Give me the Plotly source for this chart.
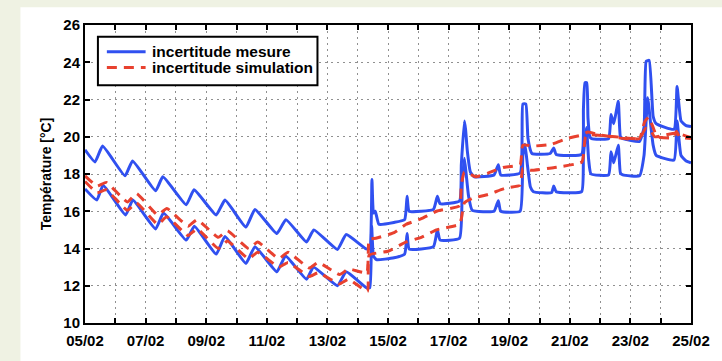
import pandas as pd
import plotly.graph_objects as go

# ---- data (x in days after 05/02 00:00) ----
mes_haut_t = [0.00, 0.33, 0.58, 1.32, 1.57, 2.33, 2.57, 3.34, 3.60, 4.33, 4.62, 5.31, 5.61,
              6.33, 6.63, 7.31, 7.55, 8.33, 8.62, 9.28, 9.40, 9.47, 9.52, 9.58, 9.70, 10.20,
              10.55, 10.63, 10.70, 11.50, 11.63, 11.72, 12.36, 12.42, 12.52, 12.56, 12.62,
              12.72, 12.85, 13.50, 13.64, 13.72, 14.36, 14.45, 14.55, 14.62, 14.75, 15.35,
              15.47, 15.55, 16.39, 16.45, 16.50, 16.56, 16.60, 16.66, 16.72, 17.28, 17.36,
              17.45, 17.60, 17.67, 17.75, 18.30, 18.45, 18.52, 18.62, 18.75, 18.85, 19.44,
              19.54, 19.67, 19.84, 20.00]
mes_haut_v = [19.30, 18.65, 19.50, 17.90, 18.70, 17.10, 17.85, 16.35, 17.15, 15.80, 16.60, 15.15, 16.10,
              14.80, 15.55, 14.35, 15.00, 13.95, 14.75, 13.98, 14.00, 17.70, 15.90, 16.00, 15.30, 15.40,
              15.55, 16.80, 16.00, 16.10, 16.80, 16.40, 16.55, 18.50, 20.85, 20.40, 19.20,
              18.10, 17.85, 17.95, 18.50, 17.95, 18.05, 21.76, 21.76, 19.90, 19.10, 19.10,
              19.40, 19.05, 19.05, 21.50, 22.90, 22.90, 21.00, 20.00, 19.90, 19.90, 21.20,
              20.70, 21.90, 20.00, 19.90, 19.75, 20.50, 24.05, 24.10, 21.10, 20.70, 20.40,
              22.70, 20.85, 20.60, 20.55]

mes_bas_t = [0.00, 0.39, 0.60, 1.34, 1.58, 2.33, 2.59, 3.34, 3.61, 4.33, 4.62, 5.31, 5.61,
             6.33, 6.62, 7.31, 7.54, 8.33, 8.62, 9.28, 9.40, 9.46, 9.52, 9.62, 10.20, 10.55,
             10.63, 10.70, 11.50, 11.63, 11.72, 12.36, 12.45, 12.52, 12.58, 12.66, 12.78,
             13.50, 13.64, 13.72, 14.36, 14.45, 14.52, 14.60, 14.70, 14.80, 15.40, 15.47,
             15.55, 16.39, 16.45, 16.55, 16.62, 16.70, 17.28, 17.36, 17.45, 17.60, 17.67,
             17.75, 18.30, 18.45, 18.57, 18.68, 18.75, 18.85, 19.44, 19.54, 19.67, 19.84, 20.00]
mes_bas_v = [17.20, 16.60, 17.40, 15.80, 16.60, 15.05, 15.90, 14.45, 15.20, 13.70, 14.65, 13.20, 14.10,
             12.75, 13.60, 12.35, 13.00, 12.00, 12.75, 11.90, 11.90, 15.20, 13.60, 13.40, 13.50, 13.70,
             14.80, 13.97, 14.10, 15.00, 14.45, 14.55, 17.50, 18.85, 18.00, 16.80, 16.05,
             16.00, 16.57, 16.00, 16.00, 19.00, 19.60, 18.50, 17.30, 17.05, 17.00, 17.35,
             17.05, 17.05, 19.00, 20.50, 18.80, 18.00, 17.95, 19.20, 18.60, 19.55, 18.05,
             17.95, 17.90, 19.00, 22.10, 20.50, 19.55, 19.00, 18.75, 20.85, 19.00, 18.70, 18.60]

sim_haut_t = [0.00, 0.40, 0.70, 1.40, 1.70, 2.40, 2.70, 3.40, 3.70, 4.40, 4.70, 5.40, 5.70,
              6.40, 6.70, 7.40, 7.70, 8.40, 8.70, 9.30, 9.38, 9.60, 10.20, 10.60, 11.10, 11.60,
              12.36, 12.42, 12.52, 12.90, 13.30, 13.80, 14.36, 14.45, 14.80, 15.40, 15.90,
              16.40, 16.60, 17.00, 17.80, 18.30, 18.47, 18.60, 18.75, 18.88, 19.42, 19.52,
              19.62, 20.00]
sim_haut_v = [17.90, 17.35, 17.55, 16.50, 16.95, 15.80, 16.15, 15.20, 15.55, 14.60, 14.95, 14.00, 14.35,
              13.45, 13.80, 12.95, 13.25, 12.60, 12.90, 12.70, 14.50, 14.55, 14.85, 15.30, 15.60, 16.00,
              16.30, 17.40, 18.10, 17.85, 18.05, 18.35, 18.50, 19.55, 19.50, 19.60, 19.90,
              20.10, 20.25, 20.10, 19.90, 19.90, 20.80, 21.05, 20.50, 20.00, 19.95, 20.30,
              20.00, 19.90]

sim_bas_t = [0.00, 0.40, 0.70, 1.40, 1.70, 2.40, 2.70, 3.40, 3.70, 4.40, 4.70, 5.40, 5.70,
             6.40, 6.70, 7.40, 7.70, 8.40, 8.70, 9.32, 9.38, 10.00, 10.60, 11.10, 11.60, 12.36,
             12.42, 12.52, 12.80, 13.30, 13.90, 14.36, 14.45, 14.70, 15.50, 16.40, 16.52,
             16.70, 17.50, 18.30, 18.50, 18.65, 18.80, 19.50, 20.00]
sim_bas_v = [17.60, 17.00, 17.15, 16.05, 16.45, 15.30, 15.70, 14.70, 15.05, 14.00, 14.40, 13.45, 13.80,
             13.00, 13.25, 12.50, 12.70, 12.10, 12.35, 11.70, 13.65, 13.85, 14.35, 14.60, 15.00, 15.30,
             15.60, 16.45, 16.70, 16.90, 17.25, 17.40, 18.30, 18.20, 18.35, 18.65, 20.00,
             20.10, 20.00, 19.90, 20.45, 20.40, 20.00, 20.20, 19.95]

jour_debut = "2013-02-05"
n_jours = 21
y_ticks = [10, 12, 14, 16, 18, 20, 22, 24, 26]
nom_mes = "incertitude mesure"
nom_sim = "incertitude simulation"
titre_y = "Température [°C]"

# ---- figure ----
base = pd.Timestamp(jour_debut)
def to_dates(days):
    return base + pd.to_timedelta(days, unit="D")

jours = [base + pd.Timedelta(days=i) for i in range(n_jours)]
jours_txt = [d.strftime("%d/%m") if i % 2 == 0 else "" for i, d in enumerate(jours)]

BLUE = "#3050f0"
RED = "#e8412f"
DASH = "10px,7px"
FONT = "Liberation Sans, Arial, sans-serif"
LINE = dict(shape="spline", smoothing=0.4)

fig = go.Figure()
for t, v in [(mes_haut_t, mes_haut_v), (mes_bas_t, mes_bas_v)]:
    fig.add_trace(go.Scatter(x=to_dates(t), y=v, mode="lines", name=nom_mes,
                             line=dict(color=BLUE, width=3, **LINE)))
for t, v in [(sim_haut_t, sim_haut_v), (sim_bas_t, sim_bas_v)]:
    fig.add_trace(go.Scatter(x=to_dates(t), y=v, mode="lines", name=nom_sim,
                             line=dict(color=RED, width=3, dash=DASH, **LINE)))

L, R, T, B = 85, 27, 25, 34
W, H = 722, 361
pw, ph = W - L - R, H - T - B
px = lambda x: (x - L) / pw
py = lambda y: (H - B - y) / ph

# white panel over the light green page (drawn on the page, under the plot area)
fig.add_shape(type="rect", xref="paper", yref="paper", layer="below",
              x0=px(20), x1=px(W + 5), y0=py(H + 5), y1=py(7),
              fillcolor="white", line=dict(width=0))

# legend drawn by hand (compact MATLAB-style box)
fig.add_shape(type="rect", xref="paper", yref="paper",
              x0=px(98), x1=px(319), y0=py(86), y1=py(37),
              fillcolor="white", line=dict(color="black", width=2))
fig.add_shape(type="line", xref="paper", yref="paper",
              x0=px(107), x1=px(146), y0=py(52), y1=py(52),
              line=dict(color=BLUE, width=3))
fig.add_shape(type="line", xref="paper", yref="paper",
              x0=px(107), x1=px(146), y0=py(68), y1=py(68),
              line=dict(color=RED, width=3, dash=DASH))
for name, yy in [(nom_mes, 52), (nom_sim, 68)]:
    fig.add_annotation(xref="paper", yref="paper", x=px(150), y=py(yy), text=name,
                       showarrow=False, xanchor="left", yanchor="middle",
                       font=dict(family=FONT, size=15.5, color="black", weight="bold"))

axis_common = dict(showline=True, linewidth=2, linecolor="black", mirror="ticks",
                   ticks="inside", ticklen=5, tickwidth=2, tickcolor="black",
                   showgrid=True, gridcolor="#909090", gridwidth=1, griddash="2px,4px",
                   zeroline=False,
                   tickfont=dict(family=FONT, size=15, color="black", weight="bold"))

fig.update_xaxes(type="date", range=[jours[0], jours[-1]], tickmode="array",
                 tickvals=jours, ticktext=jours_txt, ticklabelstandoff=3, **axis_common)
fig.update_yaxes(range=[10, 26], tickmode="array", tickvals=y_ticks,
                 title=dict(text=titre_y, font=dict(family=FONT, size=14, color="black", weight="bold"),
                            standoff=8),
                 **axis_common)

fig.update_layout(
    width=W, height=H, margin=dict(l=L, r=R, t=T, b=B),
    paper_bgcolor="#eff2e3", plot_bgcolor="rgba(0,0,0,0)",
    showlegend=False,
)

fig.write_html("out.html")
